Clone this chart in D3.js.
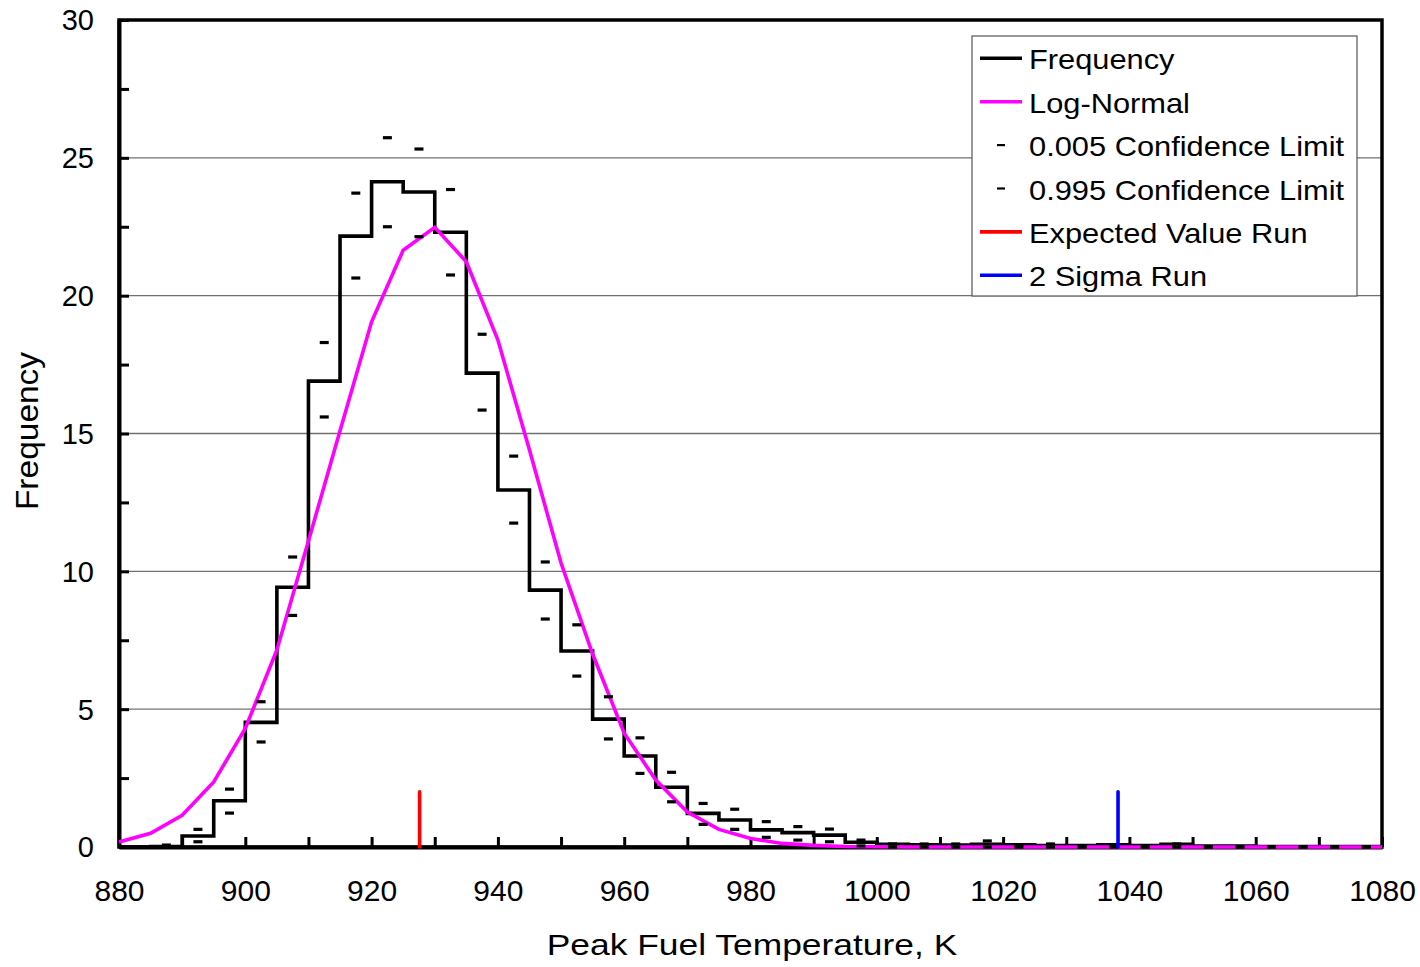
<!DOCTYPE html>
<html>
<head>
<meta charset="utf-8">
<script src="https://cdn.jsdelivr.net/npm/d3@7"></script>
<style>
  body { margin: 0; background: #fff; }
  svg text { font-family: "Liberation Sans", Arial, sans-serif; fill: #000; }
</style>
</head>
<body>
<svg id="chart" width="1420" height="967"></svg>
<script>
// histogram bins (left edges, 5 K wide) and observed frequency
const binEdges = [880, 885, 890, 895, 900, 905, 910, 915, 920, 925, 930, 935, 940, 945, 950, 955, 960, 965, 970, 975,
  980, 985, 990, 995, 1000, 1005, 1010, 1015, 1020, 1025, 1030, 1035, 1040, 1045, 1050, 1055, 1060, 1065, 1070, 1075, 1080];
const frequency = [0, 0.02, 0.4, 1.68, 4.52, 9.42, 16.9, 22.16, 24.13, 23.76, 22.3, 17.19, 12.95, 9.32, 7.11, 4.64, 3.3, 2.17, 1.22, 0.98,
  0.62, 0.52, 0.43, 0.17, 0.1, 0.08, 0.07, 0.1, 0.08, 0.05, 0.05, 0.08, 0.05, 0.1, 0.03, 0.03, 0.02, 0.02, 0.02, 0.02];

// confidence limits at bin centres
const binCenters = [882.5, 887.5, 892.5, 897.5, 902.5, 907.5, 912.5, 917.5, 922.5, 927.5, 932.5, 937.5, 942.5, 947.5, 952.5, 957.5,
  962.5, 967.5, 972.5, 977.5, 982.5, 987.5, 992.5, 997.5, 1002.5, 1007.5, 1012.5, 1017.5, 1022.5, 1027.5, 1032.5, 1037.5,
  1042.5, 1047.5, 1052.5, 1057.5, 1062.5, 1067.5, 1072.5, 1077.5];
const lower005 = [0, 0, 0.19, 1.23, 3.81, 8.4, 15.6, 20.64, 22.5, 22.14, 20.75, 15.85, 11.75, 8.27, 6.2, 3.92,
  2.67, 1.64, 0.82, 0.64, 0.35, 0.25, 0.19, 0.04, 0, 0, 0, 0, 0, 0, 0, 0, 0, 0, 0, 0, 0, 0, 0, 0];
const upper995 = [0, 0.07, 0.64, 2.1, 5.27, 10.52, 18.3, 23.72, 25.73, 25.32, 23.85, 18.6, 14.18, 10.34, 8.06, 5.45,
  3.96, 2.71, 1.58, 1.37, 0.92, 0.74, 0.65, 0.25, 0.11, 0.11, 0.11, 0.22, 0.07, 0.11, 0.01, 0.07, 0.01, 0.11, 0.01, 0.01,
  0.01, 0.01, 0.01, 0.01];

// fitted log-normal, evaluated at bin edges
const logNormal = [0.18, 0.5, 1.15, 2.36, 4.3, 7.15, 11.1, 15.1, 19.05, 21.65, 22.48, 21.23, 18.39, 14.4, 10.3, 7.0, 4.13, 2.43, 1.27, 0.64,
  0.31, 0.13, 0.06, 0.02, 0.01, 0, 0, 0, 0, 0, 0, 0, 0, 0, 0, 0, 0, 0, 0, 0, 0];

// single runs
const expectedRun = [927.6, 2];
const sigmaRun = [1038.2, 2];

const xTicks = [880, 890, 900, 910, 920, 930, 940, 950, 960, 970, 980, 990, 1000, 1010, 1020, 1030, 1040, 1050, 1060, 1070, 1080];
const yTicks = [0, 2.5, 5, 7.5, 10, 12.5, 15, 17.5, 20, 22.5, 25, 27.5, 30];
const gridValues = [5, 10, 15, 20, 25];

const legendItems = [
  { label: "Frequency", color: "#000", kind: "line" },
  { label: "Log-Normal", color: "#ff00ff", kind: "line" },
  { label: "0.005 Confidence Limit", color: "#000", kind: "dash" },
  { label: "0.995 Confidence Limit", color: "#000", kind: "dash" },
  { label: "Expected Value Run", color: "#ff0000", kind: "line" },
  { label: "2 Sigma Run", color: "#0000ff", kind: "line" }
];

const margin = { left: 119, top: 20, right: 38, bottom: 120 };
const width = 1420 - margin.left - margin.right;
const height = 967 - margin.top - margin.bottom;

const svg = d3.select("#chart");
const g = svg.append("g").attr("transform", `translate(${margin.left},${margin.top})`);

const x = d3.scaleLinear().domain([880, 1080]).range([0, width]);
const y = d3.scaleLinear().domain([0, 30]).range([height, 0]);

// stretch text horizontally to match the wide rendering of the original
function stretch(sel, factor) {
  sel.each(function () {
    const len = this.getComputedTextLength();
    d3.select(this).attr("textLength", len * factor).attr("lengthAdjust", "spacingAndGlyphs");
  });
}

// gridlines
g.selectAll(".grid")
  .data(gridValues)
  .enter()
  .append("line")
  .attr("x1", 0).attr("x2", width)
  .attr("y1", d => y(d)).attr("y2", d => y(d))
  .style("stroke", "#707070")
  .style("stroke-width", 1.3);

// frame (top / right)
g.append("rect")
  .attr("x", 0).attr("y", 0)
  .attr("width", width).attr("height", height)
  .style("fill", "none")
  .style("stroke", "#000")
  .style("stroke-width", 3.5);

// axes, ticks pointing inward
const xAxis = d3.axisBottom(x)
  .tickValues(xTicks)
  .tickFormat(d => (d % 20 === 0 ? d : ""))
  .tickSizeInner(-10)
  .tickSizeOuter(0)
  .tickPadding(36);
const gx = g.append("g").attr("transform", `translate(0,${height})`).call(xAxis);

const yAxis = d3.axisLeft(y)
  .tickValues(yTicks)
  .tickFormat(d => (d % 5 === 0 ? d : ""))
  .tickSizeInner(-10)
  .tickSizeOuter(0)
  .tickPadding(25);
const gy = g.append("g").call(yAxis);

[gx, gy].forEach(ax => {
  ax.select(".domain").style("stroke", "#000").style("stroke-width", 4);
  ax.selectAll(".tick line").style("stroke", "#000").style("stroke-width", 3);
  ax.selectAll(".tick text").style("font-size", "30px").attr("fill", "#000");
});
gx.selectAll(".tick text").attr("dy", "0.6em");
gy.selectAll(".tick text").style("font-size", "29px").attr("dy", "0.34em");

// histogram step line
const stepData = binEdges.map((e, i) => [e, i < frequency.length ? frequency[i] : frequency[frequency.length - 1]]);
g.append("path")
  .datum(stepData)
  .attr("d", d3.line().x(d => x(d[0])).y(d => y(d[1])).curve(d3.curveStepAfter))
  .style("fill", "none")
  .style("stroke", "#000")
  .style("stroke-width", 3.6)
  .style("stroke-linejoin", "miter");

// log-normal curve
g.append("path")
  .datum(binEdges.map((e, i) => [e, logNormal[i]]))
  .attr("d", d3.line().x(d => x(d[0])).y(d => y(d[1])))
  .style("fill", "none")
  .style("stroke", "#ff00ff")
  .style("stroke-width", 3.6);

// confidence limit dashes
const dashes = binCenters.map((c, i) => [c, lower005[i]]).concat(binCenters.map((c, i) => [c, upper995[i]]));
g.selectAll(".cl")
  .data(dashes)
  .enter()
  .append("line")
  .attr("x1", d => x(d[0]) - 4.5).attr("x2", d => x(d[0]) + 4.5)
  .attr("y1", d => y(d[1])).attr("y2", d => y(d[1]))
  .style("stroke", "#000")
  .style("stroke-width", 3.2);

// expected value / 2 sigma runs
[[expectedRun, "#ff0000"], [sigmaRun, "#0000ff"]].forEach(([run, color]) => {
  g.append("line")
    .attr("x1", x(run[0])).attr("x2", x(run[0]))
    .attr("y1", y(0)).attr("y2", y(run[1]))
    .style("stroke", color)
    .style("stroke-width", 3.6)
    .style("stroke-linecap", "round");
});

// axis titles
const xt = svg.append("text")
  .attr("x", 752)
  .attr("y", 955)
  .attr("text-anchor", "middle")
  .style("font-size", "30px")
  .text("Peak Fuel Temperature, K");
stretch(xt, 1.18);

const yt = svg.append("text")
  .attr("transform", "translate(37.5,431) rotate(-90)")
  .attr("text-anchor", "middle")
  .style("font-size", "31px")
  .text("Frequency");
stretch(yt, 1.08);

// legend
const legend = svg.append("g").attr("transform", "translate(972,36)");
legend.append("rect")
  .attr("width", 385).attr("height", 260)
  .style("fill", "#fff")
  .style("stroke", "#555")
  .style("stroke-width", 1.2);

const item = legend.selectAll(".item")
  .data(legendItems)
  .enter()
  .append("g")
  .attr("transform", (d, i) => `translate(0,${33.3 + i * 43.4})`);

item.filter(d => d.kind === "line")
  .append("line")
  .attr("x1", 8).attr("x2", 50)
  .attr("y1", -11).attr("y2", -11)
  .style("stroke", d => d.color)
  .style("stroke-width", 3.6);

item.filter(d => d.kind === "dash")
  .append("line")
  .attr("x1", 25).attr("x2", 33)
  .attr("y1", -11).attr("y2", -11)
  .style("stroke", d => d.color)
  .style("stroke-width", 2.2);

const legText = item.append("text")
  .attr("x", 57)
  .style("font-size", "28px")
  .text(d => d.label);
stretch(legText, 1.1);
</script>
</body>
</html>
